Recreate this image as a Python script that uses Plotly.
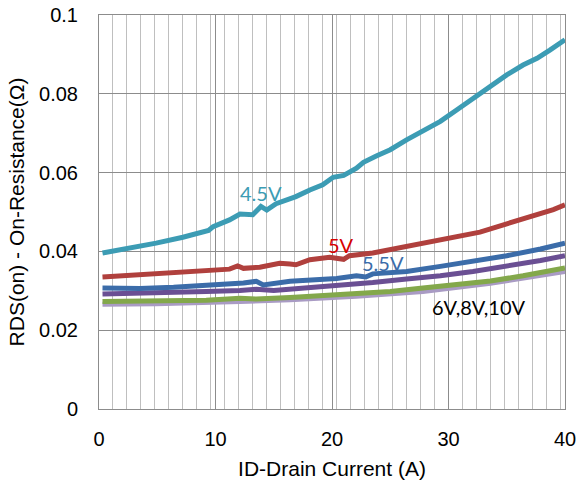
import plotly.graph_objects as go

# 4.5V
x_45 = [0.3, 2.6, 4.9, 7.2, 9.4, 9.8, 11.2, 12.1, 13.2, 13.9, 14.4, 15.2, 16.9, 18.1, 19.2, 20.1, 21.0, 22.1, 22.7, 23.8, 25.0, 26.4, 27.8, 29.3, 30.7, 32.1, 33.6, 35.0, 36.4, 37.6, 38.7, 40.0]
y_45 = [0.0396, 0.0408, 0.0421, 0.0436, 0.0453, 0.0463, 0.0480, 0.0495, 0.0493, 0.0514, 0.0505, 0.0521, 0.0539, 0.0556, 0.0569, 0.0588, 0.0593, 0.0611, 0.0626, 0.0642, 0.0658, 0.0683, 0.0704, 0.0730, 0.0759, 0.0789, 0.0818, 0.0848, 0.0873, 0.0890, 0.0911, 0.0937]
# 5V
x_5 = [0.3, 3.5, 6.4, 9.2, 11.2, 11.9, 12.4, 13.8, 15.5, 16.4, 16.9, 18.1, 19.8, 21.0, 21.5, 23.5, 26.4, 28.4, 30.7, 32.7, 35.0, 37.3, 39.0, 40.0]
y_5 = [0.0335, 0.0341, 0.0345, 0.0352, 0.0355, 0.0363, 0.0357, 0.0360, 0.0370, 0.0368, 0.0366, 0.0379, 0.0385, 0.0380, 0.0389, 0.0396, 0.0413, 0.0423, 0.0438, 0.0449, 0.0470, 0.0489, 0.0506, 0.0518]
# 5.5V
x_55 = [0.3, 3.5, 6.4, 9.2, 12.4, 13.5, 14.1, 16.4, 19.2, 20.4, 22.1, 22.9, 23.5, 26.4, 29.3, 32.1, 35.0, 37.9, 40.0]
y_55 = [0.0307, 0.0306, 0.0309, 0.0313, 0.0320, 0.0324, 0.0315, 0.0324, 0.0330, 0.0331, 0.0338, 0.0335, 0.0343, 0.0349, 0.0362, 0.0374, 0.0389, 0.0406, 0.0421]
# 6V
x_6 = [0.3, 4.9, 9.2, 12.1, 13.5, 15.0, 17.8, 20.7, 23.5, 26.4, 29.3, 32.1, 35.0, 37.9, 40.0]
y_6 = [0.0292, 0.0294, 0.0298, 0.0301, 0.0304, 0.0301, 0.0307, 0.0315, 0.0321, 0.0330, 0.0338, 0.0349, 0.0362, 0.0377, 0.0389]
# 8V
x_8 = [0.3, 4.9, 9.2, 12.1, 13.5, 16.4, 19.2, 22.1, 25.0, 27.8, 30.7, 33.6, 36.4, 40.0]
y_8 = [0.0273, 0.0273, 0.0276, 0.0281, 0.0279, 0.0283, 0.0287, 0.0292, 0.0298, 0.0307, 0.0315, 0.0325, 0.0338, 0.0358]
# 10V
x_10 = [0.3, 4.9, 12.1, 16.4, 22.1, 27.8, 33.6, 40.0]
y_10 = [0.0266, 0.0267, 0.0273, 0.0277, 0.0286, 0.0298, 0.0319, 0.0349]

labels = ["4.5V", "5V", "5.5V", "6V,8V,10V"]

fig = go.Figure()
series = [
    (x_10, y_10, "#A99BC4", "10V"),
    (x_8, y_8, "#83A84B", "8V"),
    (x_6, y_6, "#6A4F93", "6V"),
    (x_55, y_55, "#3B6CA9", "5.5V"),
    (x_5, y_5, "#B0403D", "5V"),
    (x_45, y_45, "#3C9CB4", "4.5V"),
]
for xs, ys, col, nm in series:
    fig.add_trace(go.Scatter(x=xs, y=ys, mode="lines", name=nm,
                             line=dict(color=col, width=5), showlegend=False))

ann_font = "Lato, Open Sans, sans-serif"
fig.add_annotation(x=13.9, y=0.0548, text=labels[0], showarrow=False,
                   font=dict(family=ann_font, size=20, color="#3C9CB4"))
fig.add_annotation(x=20.8, y=0.0416, text=labels[1], showarrow=False,
                   font=dict(family=ann_font, size=20, color="#D80000"))
fig.add_annotation(x=24.4, y=0.0371, text=labels[2], showarrow=False,
                   font=dict(family=ann_font, size=20, color="#3B6CA9"))
fig.add_annotation(x=32.6, y=0.0259, text=labels[3], showarrow=False,
                   font=dict(family=ann_font, size=20, color="#000000"))

axis_font = "Liberation Sans, Arial, sans-serif"
fig.update_layout(
    width=577, height=487, autosize=False,
    margin=dict(l=99, r=12, t=15, b=78, autoexpand=False),
    paper_bgcolor="white", plot_bgcolor="white",
    xaxis=dict(range=[0, 40], dtick=10, tick0=0, automargin=False,
               showgrid=True, gridcolor="#8C8C8C", gridwidth=1,
               minor=dict(dtick=1.2, tick0=0, showgrid=True, gridcolor="#BFBFBF", gridwidth=1),
               showline=True, linecolor="#8C8C8C", mirror=True, zeroline=False,
               ticks="", ticklabelstandoff=12, ticklabeloverflow="allow",
               tickfont=dict(family=axis_font, size=20, color="#000"),
               title=dict(text="ID-Drain Current (A)", font=dict(family=axis_font, size=21, color="#000"), standoff=12)),
    yaxis=dict(range=[0, 0.1], dtick=0.02, tick0=0, automargin=False,
               showgrid=True, gridcolor="#8C8C8C", gridwidth=1,
               showline=True, linecolor="#8C8C8C", mirror=True, zeroline=False,
               ticks="", ticklabelstandoff=16, ticklabeloverflow="allow",
               tickfont=dict(family=axis_font, size=20, color="#000"),
               title=dict(text="RDS(on) - On-Resistance(Ω)", font=dict(family=axis_font, size=21, color="#000"), standoff=8)),
)

fig.write_html("out.html", config={"displayModeBar": False},
               post_script="document.body.style.margin='0';")
